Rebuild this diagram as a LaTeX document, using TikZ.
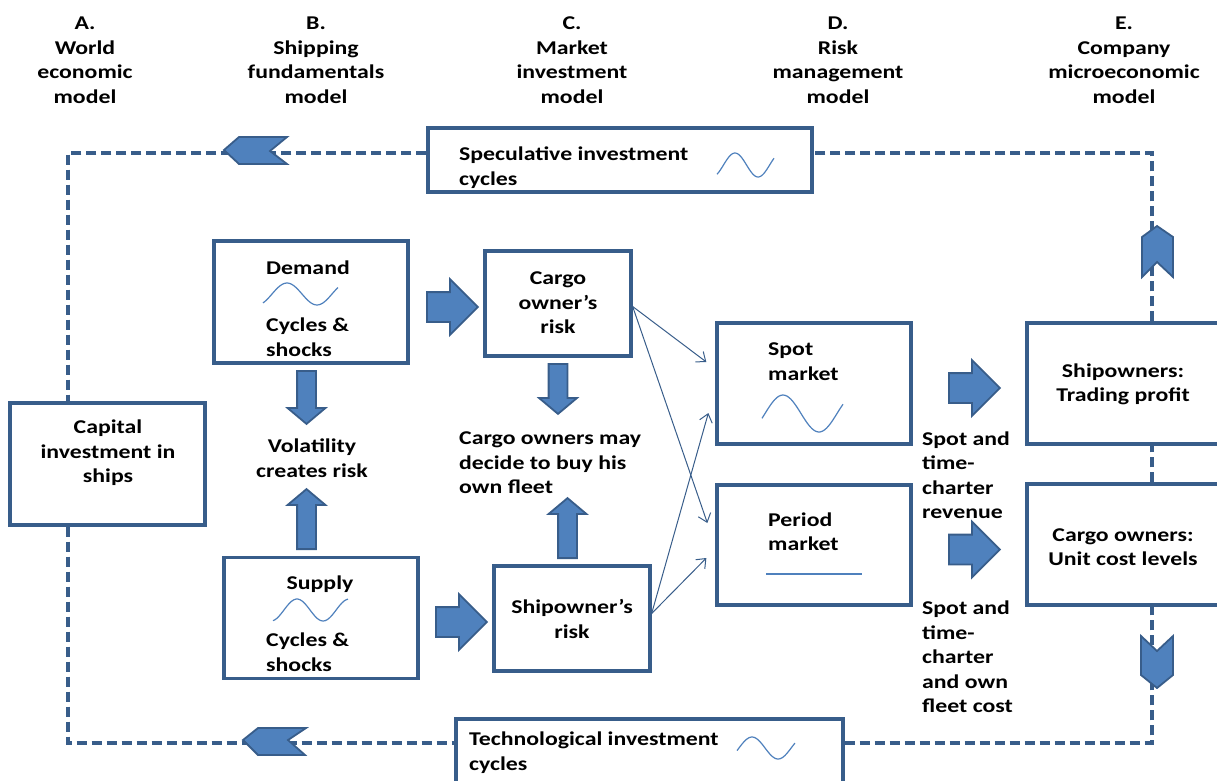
\documentclass[tikz,border=0pt]{standalone}
\usepackage{fontspec}
\newfontfamily\calib[FakeStretch=1.22]{Carlito}
\usetikzlibrary{shapes.arrows,arrows.meta}
\definecolor{boxblue}{HTML}{385D8A}
\definecolor{arrblue}{HTML}{4F81BD}
\definecolor{waveblue}{HTML}{4F81BD}

\begin{document}
\begin{tikzpicture}[x=1pt,y=-1pt]
	\useasboundingbox (0,0) rectangle (1217,780);
	\clip (0,0) rectangle (1217,780);
	\tikzstyle{every node}=[font=\calib\bfseries\fontsize{19.5}{24.5}\selectfont, inner sep=0pt, text=black]
	\tikzstyle{box}=[draw=boxblue, line width=3.3pt, fill=white]
	\tikzstyle{loopline}=[draw=boxblue, line width=3.2pt, dash pattern=on 10pt off 5pt]
	\tikzstyle{flow}=[draw=boxblue, line width=1pt, -{Straight Barb[length=8pt,width=13pt]}]
	\tikzstyle{wave}=[draw=waveblue, line width=1.2pt]
	\tikzstyle{chev}=[fill=arrblue, draw=boxblue, line width=1.8pt, line join=miter]
	\tikzstyle{fatarrow}=[single arrow, fill=arrblue, draw=boxblue, line width=1.8pt, inner xsep=0pt, inner ysep=14pt, single arrow head extend=13pt, minimum height=51pt, anchor=tail]
	\tikzstyle{slimarrow}=[fatarrow, inner ysep=8.5pt, single arrow head extend=9.5pt, single arrow tip angle=100]
	% column headings
	\draw (85,60) node[align=center] (hA) {A.\\World\\economic\\model};
	\draw (316,60) node[align=center] (hB) {B.\\Shipping\\fundamentals\\model};
	\draw (572,60) node[align=center] (hC) {C.\\Market\\investment\\model};
	\draw (838,60) node[align=center] (hD) {D.\\Risk\\management\\model};
	\draw (1124,60) node[align=center] (hE) {E.\\Company\\microeconomic\\model};
	% boxes
	\draw (620,160) node[box, minimum width=384pt, minimum height=64pt] (spec) {};
	\draw (107.5,464) node[box, minimum width=195pt, minimum height=122pt] (capital) {};
	\draw (311,302) node[box, minimum width=194pt, minimum height=122pt] (demand) {};
	\draw (321,618) node[box, minimum width=194pt, minimum height=121pt] (supply) {};
	\draw (558,303.5) node[box, minimum width=146pt, minimum height=105pt] (cargo) {};
	\draw (572,618.5) node[box, minimum width=156pt, minimum height=105pt] (ship) {};
	\draw (814,383.5) node[box, minimum width=194pt, minimum height=121pt] (spot) {};
	\draw (814,545) node[box, minimum width=194pt, minimum height=120pt] (period) {};
	\draw (1128.5,383.5) node[box, minimum width=203pt, minimum height=121pt] (trade) {};
	\draw (1128.5,544.5) node[box, minimum width=203pt, minimum height=121pt] (cost) {};
	\draw (649.5,759.5) node[box, minimum width=387pt, minimum height=81pt] (tech) {};
	% dashed investment loop
	\coordinate (tl) at (68,153);
	\coordinate (tr) at (1152,153);
	\coordinate (bl) at (68,743);
	\coordinate (br) at (1152,743);
	\draw[loopline] (tl -| spec.west) -- (tl) -- (tl |- capital.north);
	\draw[loopline] (bl |- capital.south) -- (bl) -- (bl -| tech.west);
	\draw[loopline] (br -| tech.east) -- (br) -- (br |- cost.south);
	\draw[loopline] (tr |- cost.north) -- (tr |- trade.south);
	\draw[loopline] (tr |- trade.north) -- (tr) -- (tr -| spec.east);
	\draw[chev] (224,150) -- (239,137) -- (287,137) -- (270,151) -- (287,164) -- (239,164) -- cycle;
	\draw[chev] (1157,226) -- (1173,237) -- (1173,277) -- (1157,262) -- (1142,277) -- (1142,237) -- cycle;
	\draw[chev] (1141,636) -- (1157,651) -- (1173,636) -- (1173,675) -- (1157,688) -- (1141,675) -- cycle;
	\draw[chev] (243,740) -- (258,728) -- (306,728) -- (288,740) -- (305,755) -- (258,755) -- cycle;
	% box texts
	\draw (459,167.5) node[anchor=west, align=left] {Speculative investment\\cycles};
	\draw (469,752.5) node[anchor=west, align=left] {Technological investment\\cycles};
	\draw (108,453) node[align=center] {Capital\\investment in\\ships};
	\draw (308,268) node {Demand};
	\draw (266,337) node[anchor=west, align=left] {Cycles \&\\shocks};
	\draw (320,584) node {Supply};
	\draw (266,652) node[anchor=west, align=left] {Cycles \&\\shocks};
	\draw (558,303) node[align=center] {Cargo\\owner’s\\risk};
	\draw (572,619) node[align=center] {Shipowner’s\\risk};
	\draw (768,361.5) node[anchor=west, align=left] {Spot\\market};
	\draw (768,531.5) node[anchor=west, align=left] {Period\\market};
	\draw (1123,384.5) node[align=center] {Shipowners:\\Trading profit};
	\draw (1123,547) node[align=center] {Cargo owners:\\Unit cost levels};
	% free texts
	\draw (312,458) node[align=center] (vol) {Volatility\\creates risk};
	\draw (459,463) node[anchor=west, align=left] (buy) {Cargo owners may\\decide to buy his\\own fleet};
	\draw (922,475) node[anchor=west, align=left] (rev) {Spot and\\time-\\charter\\revenue};
	\draw (922,657) node[anchor=west, align=left] (fleetcost) {Spot and\\time-\\charter\\and own\\fleet cost};
	% waves
	\draw[wave] plot[domain=717:774, samples=40] (\x, {165-12*cos((\x-735)*7.8)});
	\draw[wave] plot[domain=737:795, samples=40] (\x, {748-11*cos((\x-752)*6.9)});
	\draw[wave] plot[domain=263:338, samples=40] (\x, {294-11*cos((\x-287)*6)});
	\draw[wave] plot[domain=273:348, samples=40] (\x, {610-11*cos((\x-297)*6.9)});
	\draw[wave] plot[domain=762:843, samples=40] (\x, {413.5-18.5*cos((\x-783)*5)});
	\draw[wave] (766,574) -- (862,574);
	% block arrows
	\draw (426,307) node[fatarrow] (d2c) {};
	\draw (435,622) node[fatarrow] (s2s) {};
	\draw (948,388) node[fatarrow] (p2t) {};
	\draw (948,549.5) node[fatarrow] (p2c) {};
	\draw (306.5,370) node[slimarrow, rotate=-90, minimum height=53pt] (ddown) {};
	\draw (306.5,550) node[slimarrow, rotate=90, minimum height=60pt] (sup) {};
	\draw (558,363) node[slimarrow, rotate=-90, minimum height=50pt] (cdown) {};
	\draw (567.5,559) node[slimarrow, rotate=90, minimum height=60pt] (shup) {};
	% risk flows to the markets
	\draw[flow] ([yshift=-3pt]cargo.east) -- ([xshift=-9pt,yshift=21.5pt]spot.west);
	\draw[flow] ([yshift=-3pt]cargo.east) -- ([xshift=-8pt,yshift=22pt]period.west);
	\draw[flow] ([yshift=5pt]ship.east) -- ([xshift=-7pt,yshift=-29.5pt]spot.west);
	\draw[flow] ([yshift=5pt]ship.east) -- ([xshift=-9pt,yshift=-13pt]period.west);
\end{tikzpicture}
\end{document}
